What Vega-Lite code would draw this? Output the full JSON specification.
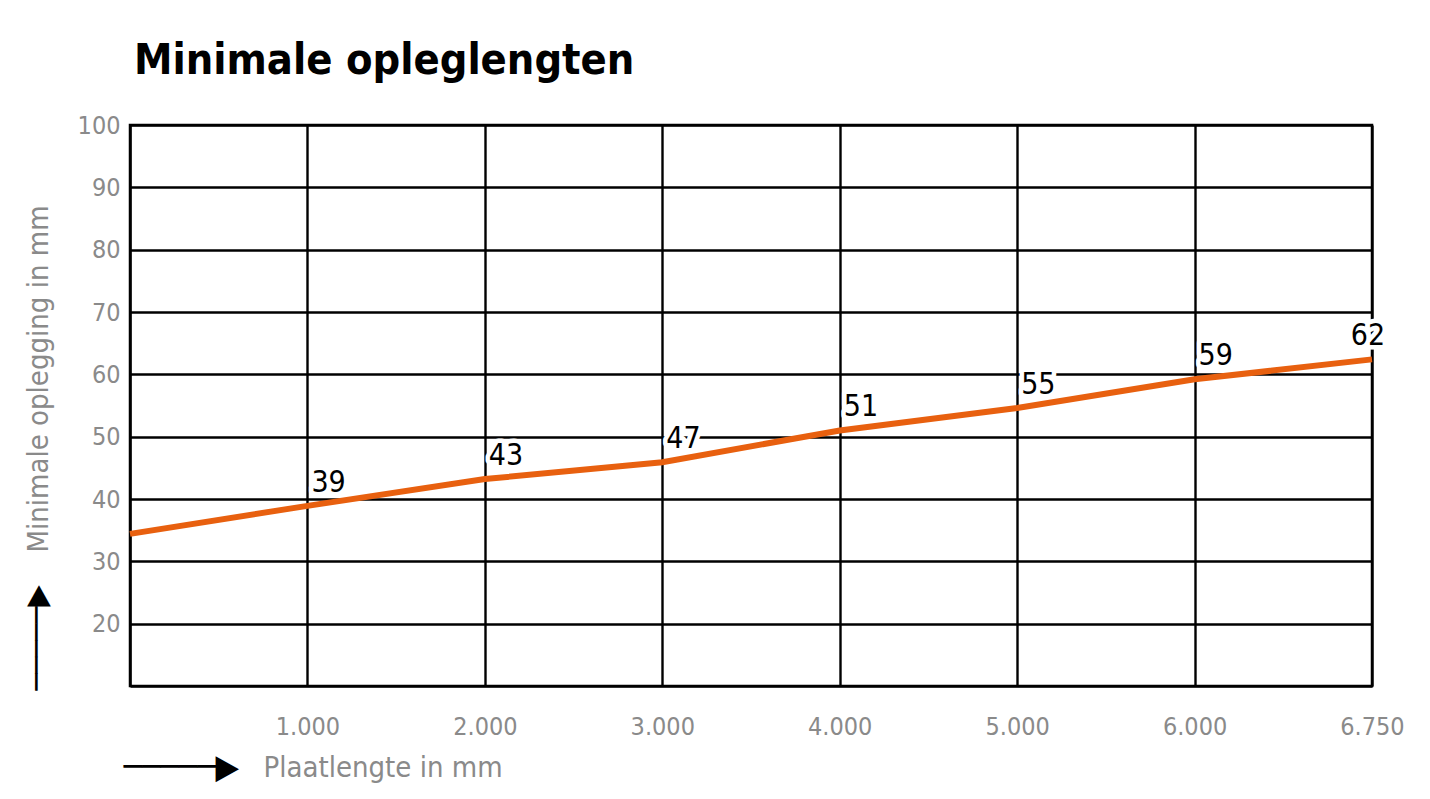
{
  "$schema": "https://vega.github.io/schema/vega-lite/v6.json",
  "width": 1242,
  "height": 561,
  "autosize": {"type": "none"},
  "padding": {"left": 130, "top": 125, "right": 58, "bottom": 113},
  "background": "white",
  "title": {
    "text": "Minimale opleglengten",
    "anchor": "start",
    "frame": "group",
    "font": "DejaVu Sans Condensed",
    "fontSize": 43,
    "fontWeight": "bold",
    "color": "#000000",
    "dx": 4,
    "dy": 52,
    "offset": 48,
    "baseline": "alphabetic"
  },
  "data": {
    "values": [
      {"plaatlengte": 0, "oplegging": 34.4, "label": null},
      {"plaatlengte": 1000, "oplegging": 38.9, "label": "39"},
      {"plaatlengte": 2000, "oplegging": 43.2, "label": "43"},
      {"plaatlengte": 3000, "oplegging": 45.9, "label": "47"},
      {"plaatlengte": 4000, "oplegging": 51.0, "label": "51"},
      {"plaatlengte": 5000, "oplegging": 54.6, "label": "55"},
      {"plaatlengte": 6000, "oplegging": 59.2, "label": "59"},
      {"plaatlengte": 6750, "oplegging": 62.4, "label": "62"}
    ]
  },
  "layer": [
    {
      "mark": {"type": "line", "color": "#e8600f", "strokeWidth": 6, "strokeCap": "butt"},
      "encoding": {
        "x": {
          "field": "plaatlengte",
          "type": "quantitative",
          "scale": {"domain": [0, 6000, 6750], "range": [0, 1064.6, 1242], "nice": false, "zero": false},
          "axis": {
            "orient": "bottom",
            "values": [1000, 2000, 3000, 4000, 5000, 6000, 6750],
            "labelExpr": "replace(format(datum.value, ','), ',', '.')",
            "grid": true,
            "gridColor": "#000000",
            "gridWidth": 2.4,
            "domainColor": "#000000",
            "domainWidth": 2.6,
            "ticks": false,
            "tickSize": 0,
            "labelPadding": 28,
            "labelFont": "DejaVu Sans Condensed",
            "labelFontSize": 25,
            "labelColor": "#8a8a8a",
            "labelFlush": false,
            "labelOverlap": false,
            "title": "Plaatlengte in mm",
            "titleFont": "DejaVu Sans Condensed",
            "titleFontSize": 29,
            "titleFontWeight": "normal",
            "titleColor": "#8a8a8a",
            "titleX": 133,
            "titleY": 81,
            "titleAlign": "left",
            "titleBaseline": "middle",
            "titleAngle": 0
          }
        },
        "y": {
          "field": "oplegging",
          "type": "quantitative",
          "scale": {"domain": [10, 100], "nice": false, "zero": false},
          "axis": {
            "orient": "left",
            "values": [20, 30, 40, 50, 60, 70, 80, 90, 100],
            "grid": true,
            "gridColor": "#000000",
            "gridWidth": 2.4,
            "domainColor": "#000000",
            "domainWidth": 2.6,
            "ticks": false,
            "tickSize": 0,
            "labelPadding": 10,
            "labelFont": "DejaVu Sans Condensed",
            "labelFontSize": 25,
            "labelColor": "#8a8a8a",
            "labelFlush": false,
            "labelOverlap": false,
            "title": "Minimale oplegging in mm",
            "titleFont": "DejaVu Sans Condensed",
            "titleFontSize": 29,
            "titleFontWeight": "normal",
            "titleColor": "#8a8a8a",
            "titleX": -92,
            "titleY": 427,
            "titleAlign": "left",
            "titleBaseline": "middle",
            "titleAngle": 270
          }
        }
      }
    },
    {
      "transform": [{"filter": "isValid(datum.label)"}],
      "mark": {
        "type": "text",
        "align": {"expr": "datum.plaatlengte >= 6750 ? 'center' : 'left'"},
        "dx": {"expr": "datum.plaatlengte >= 6750 ? -4 : 4"},
        "dy": -14,
        "baseline": "alphabetic",
        "font": "DejaVu Sans Condensed",
        "fontSize": 30,
        "color": "white",
        "stroke": "white",
        "strokeWidth": 9,
        "strokeJoin": "round"
      },
      "encoding": {
        "x": {
          "field": "plaatlengte",
          "type": "quantitative",
          "scale": {"domain": [0, 6000, 6750], "range": [0, 1064.6, 1242], "nice": false, "zero": false},
          "axis": {
            "orient": "bottom",
            "labels": false,
            "grid": false,
            "domain": false,
            "ticks": false,
            "tickSize": 0,
            "offset": 0,
            "title": "─────▶",
            "titleFont": "DejaVu Sans Condensed",
            "titleFontSize": 34,
            "titleFontWeight": "normal",
            "titleColor": "#000000",
            "titleX": -7,
            "titleY": 81,
            "titleAlign": "left",
            "titleBaseline": "middle",
            "titleAngle": 0
          }
        },
        "y": {
          "field": "oplegging",
          "type": "quantitative",
          "scale": {"domain": [10, 100], "nice": false, "zero": false},
          "axis": {
            "orient": "left",
            "labels": false,
            "grid": false,
            "domain": false,
            "ticks": false,
            "tickSize": 0,
            "offset": 0,
            "title": "─────▶",
            "titleFont": "DejaVu Sans Condensed",
            "titleFontSize": 31,
            "titleFontWeight": "normal",
            "titleColor": "#000000",
            "titleX": -93,
            "titleY": 565,
            "titleAlign": "left",
            "titleBaseline": "middle",
            "titleAngle": 270
          }
        },
        "text": {"field": "label"}
      }
    },
    {
      "transform": [{"filter": "isValid(datum.label)"}],
      "mark": {
        "type": "text",
        "align": {"expr": "datum.plaatlengte >= 6750 ? 'center' : 'left'"},
        "dx": {"expr": "datum.plaatlengte >= 6750 ? -4 : 4"},
        "dy": -14,
        "baseline": "alphabetic",
        "font": "DejaVu Sans Condensed",
        "fontSize": 30,
        "color": "#000000"
      },
      "encoding": {
        "x": {"field": "plaatlengte", "type": "quantitative", "axis": null},
        "y": {"field": "oplegging", "type": "quantitative", "axis": null},
        "text": {"field": "label"}
      }
    }
  ],
  "resolve": {"axis": {"x": "independent", "y": "independent"}},
  "config": {
    "view": {"stroke": "#000000", "strokeWidth": 2.5}
  }
}
